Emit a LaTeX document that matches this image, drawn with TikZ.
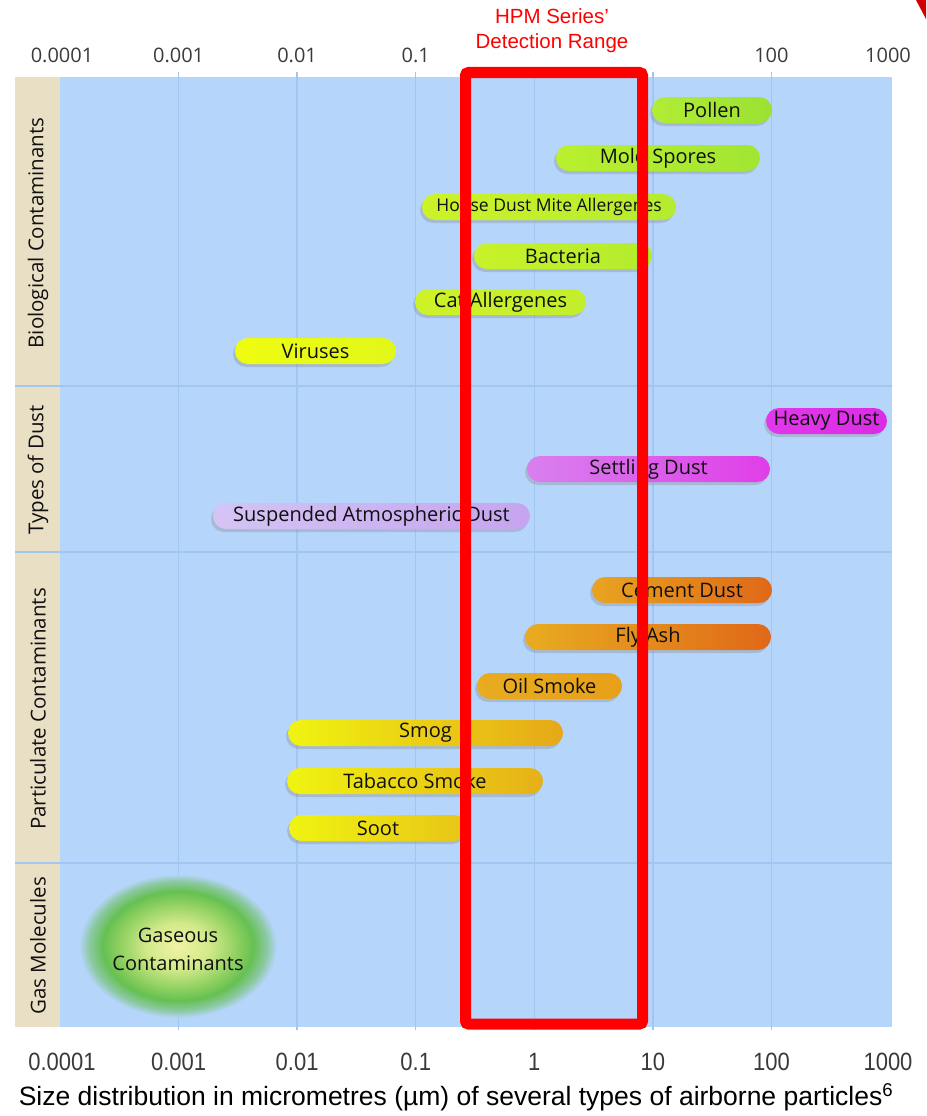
\documentclass[tikz,border=0pt]{standalone}
\usepackage{fontspec}
\setmainfont{Open Sans}
\newfontfamily\arialf{Liberation Sans}
\newfontfamily\narrowf[FakeStretch=0.88]{Liberation Sans}
\usetikzlibrary{shadows}
\definecolor{panelblue}{HTML}{B6D5FB}
\definecolor{tanstrip}{HTML}{E8DFC4}
\definecolor{gridcol}{HTML}{A2C6F2}
\definecolor{txtdark}{HTML}{101010}
\definecolor{axisgray}{HTML}{3A3A3A}
\definecolor{gcA}{HTML}{F0F3A4}
\definecolor{gcB}{HTML}{D2E98A}
\definecolor{gcC}{HTML}{8ED060}
\definecolor{gcD}{HTML}{66C052}
\definecolor{gcE}{HTML}{8CC9A4}
\pgfdeclareradialshading{gasglow}{\pgfpointorigin}{color(0bp)=(gcA); color(8bp)=(gcB); color(15bp)=(gcC); color(19bp)=(gcD); color(22.5bp)=(gcE); color(25bp)=(panelblue); color(50bp)=(panelblue)}
\newcommand\pbar[8]{%
  \definecolor{L#1}{HTML}{#5}\definecolor{R#1}{HTML}{#6}%
  \node[barbox, left color=L#1, right color=R#1, minimum width={#3-#2},
        font=\fontsize{#7}{#7}\selectfont] (#1) at ({(#2+#3)/2},#4) {#8};}
\begin{document}
\begin{tikzpicture}[x=1pt,y=-1pt,
  barbox/.style={rounded corners=13pt, minimum height=26pt, inner sep=0pt,
     text=txtdark, drop shadow={shadow xshift=-2pt, shadow yshift=-3pt, opacity=0.3}},
  gridline/.style={draw=gridcol, line width=1.3pt},
  toplab/.style={font=\fontsize{20}{20}\selectfont, text=axisgray},
  botlab/.style={font=\narrowf\fontsize{25}{25}\selectfont, text=axisgray},
  catlab/.style={rotate=90, font=\fontsize{20.5}{20.5}\selectfont, text=txtdark},
  redlab/.style={font=\arialf\fontsize{20.5}{25}\selectfont, text=red, align=center}]
\useasboundingbox (0,0) rectangle (926,1116);
% panel
\fill[panelblue] (60,77) rectangle (892,1027);
\fill[tanstrip] (15,77) rectangle (60,1027);
% grid lines
\foreach \gx in {178.6,297.1,415.7,534.3,652.9,771.4}
  \draw[gridline] (\gx,72) -- (\gx,1030);
\foreach \gy in {386,552,863}
  \draw[gridline] (15,\gy) -- (892,\gy);
% axis labels
\foreach \gx/\t [count=\i] in {62/0.0001,178.6/0.001,297.1/0.01,415.7/0.1,771.4/100,888/1000}
  \node[toplab] (top\i) at (\gx,55) {\t};
\foreach \gx/\t [count=\i] in {62/0.0001,178.6/0.001,297.1/0.01,415.7/0.1,534.3/1,652.9/10,771.4/100,888/1000}
  \node[botlab] (bot\i) at (\gx,1062) {\t};
% category labels
\node[catlab] (cat1) at (38,233) {Biological Contaminants};
\node[catlab] (cat2) at (38,470) {Types of Dust};
\node[catlab] (cat3) at (38,709) {Particulate Contaminants};
\node[catlab] (cat4) at (38,946) {Gas Molecules};
% bars
\pbar{pollen}{652}{772}{110}{B2EC36}{9AE232}{20}{Pollen}
\pbar{mold}{556}{760}{158}{BAF02E}{A2E632}{20}{Mold Spores}
\pbar{house}{422}{676}{207}{CCF228}{B4EC30}{17.5}{House Dust Mite Allergenes}
\pbar{bact}{474}{652}{256}{C8F22A}{B2EC2C}{20}{Bacteria}
\pbar{cat}{415}{586}{302}{CEF228}{C2EE2C}{20}{Cat Allergenes}
\pbar{virus}{235}{396}{351}{EEFC10}{E2F81A}{20}{Viruses}
\pbar{heavy}{766}{887}{421}{E038EA}{DC2CE6}{20}{Heavy Dust}
\pbar{settle}{527}{770}{469}{D880EE}{E03EE8}{20}{Settling Dust}
\pbar{susp}{213}{530}{516}{D4C4F4}{C6A4F0}{20}{Suspended Atmospheric Dust}
\pbar{cement}{592}{772}{590}{E8A420}{E06818}{20}{Cement Dust}
\pbar{fly}{525}{771}{637}{E8AC20}{E06818}{20}{Fly Ash}
\pbar{oil}{477}{622}{686}{E8AC20}{E8A018}{20}{Oil Smoke}
\pbar{smog}{288}{563}{733}{F0F410}{E6A818}{20}{Smog}
\pbar{tabacco}{287}{543}{781}{F0F410}{E6B018}{20}{Tabacco Smoke}
\pbar{soot}{289}{467}{828}{F0F410}{E8C418}{20}{Soot}
% gas molecules
\path[shading=gasglow] (178,946) ellipse [x radius=99, y radius=72];
\node[font=\fontsize{20}{28}\selectfont, text=txtdark, align=center] (gas) at (178,949) {Gaseous\\Contaminants};
% detection range
\node[draw=red, line width=11pt, rounded corners=3pt, minimum width=177pt, minimum height=951.5pt, inner sep=0pt] (hpm) at (554,548.25) {};
\node[redlab] (hpmlab) at (552,31) {HPM Series’\\Detection Range};
% corner fragment
\fill[red!82!black] (916,0) -- (926,0) -- (926,19) -- cycle;
% caption
\node[font=\arialf\fontsize{26.5}{26.5}\selectfont, text=black] (cap) at (456,1097) {Size distribution in micrometres (µm) of several types of airborne particles\textsuperscript{6}};
\end{tikzpicture}
\end{document}
